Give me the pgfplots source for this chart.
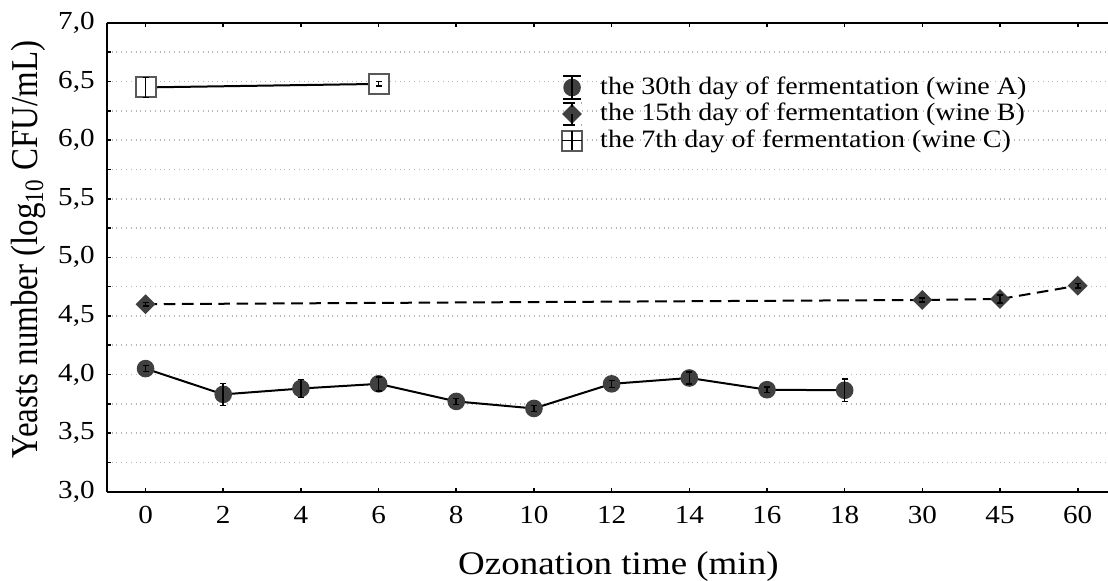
\documentclass[border=0pt]{standalone}
\usepackage{fontspec}
\setmainfont{Liberation Serif}[FakeStretch=1.12]
\newfontfamily\plainserif{Liberation Serif}
\usepackage{pgfplots}
\usepackage{pgfplotstable}
\pgfplotsset{compat=1.18}
\usetikzlibrary{calc}

\definecolor{markgray}{gray}{0.25}
\definecolor{gridgray}{gray}{0.72}
\definecolor{boxgray}{gray}{0.35}

% wine A: 30th day of fermentation
\pgfplotstableread{
x y e
0 4.05 0.025
1 3.83 0.094
2 3.88 0.078
3 3.92 0.060
4 3.77 0.025
5 3.71 0.025
6 3.92 0.030
7 3.97 0.050
8 3.87 0.025
9 3.865 0.097
}\wineA
% wine B: 15th day of fermentation
\pgfplotstableread{
x y e
0 4.60 0.015
10 4.636 0.015
11 4.644 0.035
12 4.758 0.020
}\wineB
% wine C: 7th day of fermentation
\pgfplotstableread{
x y e
0 6.45 0.085
3 6.48 0.020
}\wineC

\pgfplotsset{
  errleg/.style={legend image code/.code={
    \path (0cm,0cm) (0.66cm,0cm);
    \path[##1, only marks] plot coordinates {(0.2cm,0cm)};
    \draw[black, line width=1pt] (0.2cm,-0.2cm)--(0.2cm,0.2cm)
      (0.04cm,-0.2cm)--(0.36cm,-0.2cm) (0.04cm,0.2cm)--(0.36cm,0.2cm);}},
  boxleg/.style={legend image code/.code={
    \path (0cm,0cm) (0.66cm,0cm);
    \path[##1, only marks] plot coordinates {(0.2cm,0cm)};
    \draw[black, line width=0.9pt] (0.2cm,-0.17cm)--(0.2cm,0.17cm)
      (0.03cm,0cm)--(0.37cm,0cm);}},
  errbars/.style={forget plot, draw=none, mark=none, on layer=axis foreground,
    error bars/.cd, y dir=both, y explicit,
    error bar style={draw=black, solid, line width=0.8pt},
    error mark options={rotate=90, mark size=1.5pt, draw=black, solid, line width=0.8pt}},
}

\begin{document}
\begin{tikzpicture}
\begin{axis}[
  set layers,
  scale only axis,
  width=500.6pt, height=234.3pt,
  xmin=-0.5, xmax=12.39,
  ymin=3, ymax=7,
  axis x line*=box, axis y line*=left,
  axis line style={line width=1pt},
  xtick={0,...,12},
  xticklabels={0,2,4,6,8,10,12,14,16,18,30,45,60},
  ytick={3,3.5,...,7},
  minor ytick={3.25,3.75,...,6.75},
  tick align=inside,
  major tick length=2pt, minor tick length=2pt,
  tick style={black, line width=0.8pt},
  ymajorgrids, yminorgrids,
  major grid style={gridgray, dotted, line width=0.8pt},
  minor grid style={gridgray, dotted, line width=0.8pt},
  tick label style={font=\fontsize{13}{15}\selectfont},
  yticklabel style={xshift=-2.5pt, /pgf/number format/.cd, fixed, fixed zerofill,
    precision=1, use comma, assume math mode=true},
  xticklabel style={yshift=-4pt},
  xlabel={Ozonation time (min)},
  ylabel={\scalebox{1}[1.15]{\plainserif Yeasts number (log\textsubscript{10} CFU/mL)}},
  label style={font=\fontsize{16.5}{19}\selectfont},
  xlabel style={at={(axis description cs:0.511,-0.16)}, anchor=center},
  ylabel style={at={(axis description cs:-0.0786,0.517)}, anchor=center},
  legend style={at={(0.446,0.90)}, anchor=north west, draw=none, fill=none,
    font=\fontsize{12.5}{13}\selectfont, row sep=0pt, cells={anchor=west},
    nodes={inner sep=0.5pt, text height=9.5pt, text depth=2.75pt}},
]
% wine A
\addplot[black, line width=1pt, mark=*, mark size=3.9pt,
  mark options={fill=markgray, draw=markgray, solid}, errleg]
  table[x=x, y=y] {\wineA};
\addlegendentry{the 30th day of fermentation (wine A)}
\addplot[errbars] table[x=x, y=y, y error=e] {\wineA};
% wine B
\addplot[black, line width=1pt, dash pattern=on 5.8pt off 3.3pt,
  mark=square*, mark size=3pt,
  mark options={rotate=45, fill=markgray, draw=markgray, solid}, errleg]
  table[x=x, y=y] {\wineB};
\addlegendentry{the 15th day of fermentation (wine B)}
\addplot[errbars] table[x=x, y=y, y error=e] {\wineB};
% wine C
\addplot[black, line width=1pt, mark=square*, mark size=5pt,
  mark options={fill=white, draw=boxgray, line width=1pt, solid}, boxleg]
  table[x=x, y=y] {\wineC};
\addlegendentry{the 7th day of fermentation (wine C)}
\addplot[errbars] table[x=x, y=y, y error=e] {\wineC};
\end{axis}
\pgfresetboundingbox
\path ($(current axis.south west)+(-53.35pt,-44.65pt)$) rectangle
  ($(current axis.north east)+(0pt,11.5pt)$);
\end{tikzpicture}
\end{document}
